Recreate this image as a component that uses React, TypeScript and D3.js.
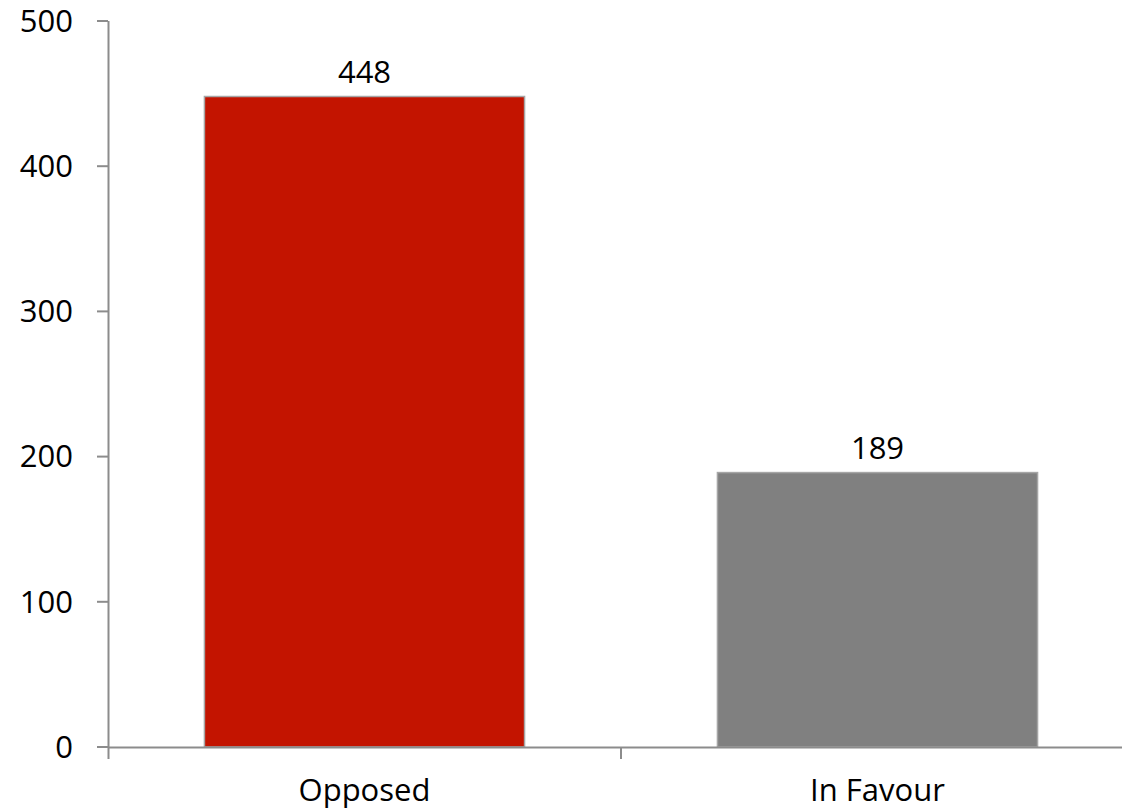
import React from "react";
import * as d3 from "d3";

const categories = ["Opposed", "In Favour"];
const values = [448, 189];
const colors = ["#C31400", "#808080"];
const yTicks = [0, 100, 200, 300, 400, 500];

const W = 1122;
const H = 810;
const FONT = "'Open Sans', sans-serif";

export default function App() {
  const x = d3
    .scaleBand<string>()
    .domain(categories)
    .range([108, 1134])
    .paddingInner(0.376)
    .paddingOuter(0.188);
  const y = d3.scaleLinear().domain([0, 500]).range([747, 21]);
  const axisColor = "#8c8c8c";

  return (
    <svg
      width={W}
      height={H}
      style={{ position: "absolute", left: 0, top: 0, background: "#fff" }}
      fontFamily={FONT}
    >
      {categories.map((c, i) => (
        <g key={c}>
          <rect
            x={x(c)!}
            y={y(values[i])}
            width={x.bandwidth()}
            height={y(0) - y(values[i])}
            fill={colors[i]}
            stroke="#a6a6a6"
            strokeWidth={1.5}
          />
          <text
            x={x(c)! + x.bandwidth() / 2}
            y={y(values[i]) - 14}
            textAnchor="middle"
            fontSize={31}
            fill="#000"
          >
            {values[i]}
          </text>
          <text
            x={x(c)! + x.bandwidth() / 2}
            y={800.5}
            textAnchor="middle"
            fontSize={31}
            fill="#000"
          >
            {c}
          </text>
        </g>
      ))}
      <line x1={108.5} x2={108.5} y1={y(500)} y2={759} stroke={axisColor} strokeWidth={2} />
      <line x1={108} x2={W} y1={747.5} y2={747.5} stroke={axisColor} strokeWidth={2} />
      {yTicks.map((t) => (
        <g key={t}>
          <line x1={97} x2={108} y1={y(t)} y2={y(t)} stroke={axisColor} strokeWidth={2} />
          <text x={73} y={y(t)} dy="0.35em" textAnchor="end" fontSize={31} fill="#000">
            {t}
          </text>
        </g>
      ))}
      <line x1={621} x2={621} y1={747} y2={759} stroke={axisColor} strokeWidth={2} />
    </svg>
  );
}
